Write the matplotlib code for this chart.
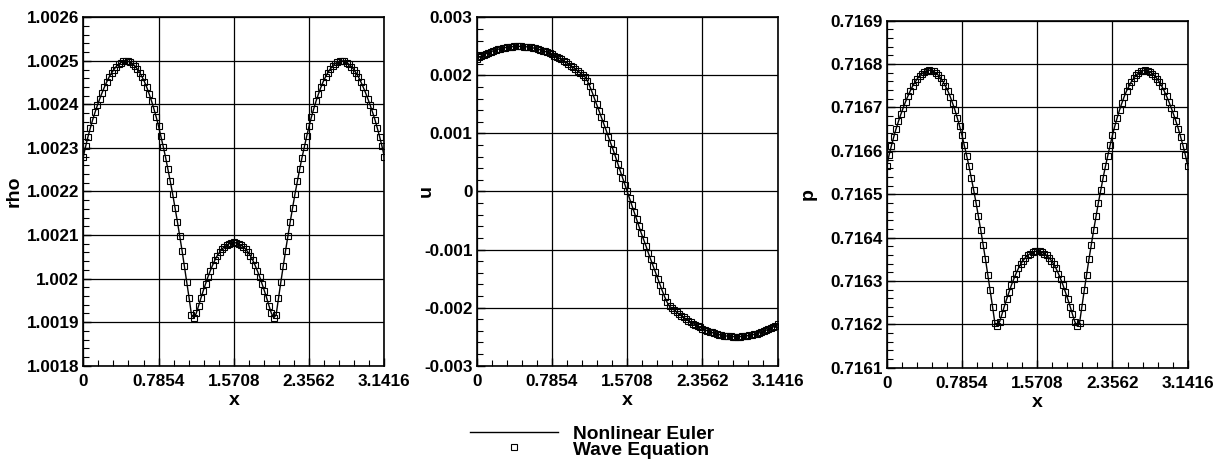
import numpy as np
import matplotlib
matplotlib.use("Agg")
import matplotlib.pyplot as plt
from matplotlib.lines import Line2D
from matplotlib.ticker import AutoMinorLocator

plt.rcParams['font.family'] = ['Liberation Sans', 'DejaVu Sans']
plt.rcParams['font.weight'] = 'bold'

# x grid (129 uniformly spaced points on [0, pi])
x = np.linspace(0, np.pi, 129)
x_ticks = [0, 0.7854, 1.5708, 2.3562, 3.1416]
x_tick_labels = ['0', '0.7854', '1.5708', '2.3562', '3.1416']

rho = [
    1.002280, 1.002304, 1.002326, 1.002346, 1.002365, 1.002382, 1.002398, 1.002413, 1.002427, 1.002440,
    1.002452, 1.002463, 1.002472, 1.002480, 1.002487, 1.002492, 1.002496, 1.002499, 1.002500, 1.002499,
    1.002497, 1.002493, 1.002488, 1.002481, 1.002473, 1.002463, 1.002452, 1.002439, 1.002424, 1.002408,
    1.002390, 1.002371, 1.002350, 1.002327, 1.002303, 1.002278, 1.002251, 1.002223, 1.002194, 1.002163,
    1.002131, 1.002098, 1.002064, 1.002028, 1.001992, 1.001955, 1.001917, 1.001910, 1.001920, 1.001937,
    1.001955, 1.001972, 1.001988, 1.002004, 1.002018, 1.002031, 1.002043, 1.002053, 1.002061, 1.002068,
    1.002073, 1.002077, 1.002080, 1.002082, 1.002083,
    1.002082, 1.002080, 1.002077, 1.002073, 1.002068, 1.002061, 1.002053, 1.002043, 1.002031, 1.002018,
    1.002004, 1.001988, 1.001972, 1.001955, 1.001937, 1.001920, 1.001910, 1.001917, 1.001955, 1.001992,
    1.002028, 1.002064, 1.002098, 1.002131, 1.002163, 1.002194, 1.002223, 1.002251, 1.002278, 1.002303,
    1.002327, 1.002350, 1.002371, 1.002390, 1.002408, 1.002424, 1.002439, 1.002452, 1.002463, 1.002473,
    1.002481, 1.002488, 1.002493, 1.002497, 1.002499, 1.002500, 1.002499, 1.002496, 1.002492, 1.002487,
    1.002480, 1.002472, 1.002463, 1.002452, 1.002440, 1.002427, 1.002413, 1.002398, 1.002382, 1.002365,
    1.002346, 1.002326, 1.002304, 1.002280,
]

u = [
    0.002290, 0.002313, 0.002335, 0.002355, 0.002374, 0.002391, 0.002408, 0.002423, 0.002437, 0.002449,
    0.002460, 0.002470, 0.002478, 0.002485, 0.002491, 0.002495, 0.002498, 0.002500, 0.002500, 0.002499,
    0.002496, 0.002493, 0.002487, 0.002481, 0.002473, 0.002464, 0.002453, 0.002441, 0.002428, 0.002414,
    0.002398, 0.002380, 0.002362, 0.002342, 0.002321, 0.002299, 0.002276, 0.002251, 0.002225, 0.002198,
    0.002169, 0.002140, 0.002109, 0.002077, 0.002044, 0.002010, 0.001975, 0.001910, 0.001820, 0.001720,
    0.001610, 0.001500, 0.001390, 0.001280, 0.001170, 0.001060, 0.000940, 0.000830, 0.000720, 0.000600,
    0.000480, 0.000360, 0.000240, 0.000120, 0.0,
    -0.000120, -0.000240, -0.000360, -0.000480, -0.000600, -0.000720, -0.000830, -0.000940, -0.001060, -0.001170,
    -0.001280, -0.001390, -0.001500, -0.001610, -0.001720, -0.001820, -0.001910, -0.001975, -0.002010, -0.002044,
    -0.002077, -0.002109, -0.002140, -0.002169, -0.002198, -0.002225, -0.002251, -0.002276, -0.002299, -0.002321,
    -0.002342, -0.002362, -0.002380, -0.002398, -0.002414, -0.002428, -0.002441, -0.002453, -0.002464, -0.002473,
    -0.002481, -0.002487, -0.002493, -0.002496, -0.002499, -0.002500, -0.002500, -0.002498, -0.002495, -0.002491,
    -0.002485, -0.002478, -0.002470, -0.002460, -0.002449, -0.002437, -0.002423, -0.002408, -0.002391, -0.002374,
    -0.002355, -0.002335, -0.002313, -0.002290,
]

p = [
    0.716566, 0.716590, 0.716612, 0.716632, 0.716651, 0.716668, 0.716684, 0.716699, 0.716713, 0.716726,
    0.716738, 0.716749, 0.716758, 0.716766, 0.716773, 0.716778, 0.716782, 0.716785, 0.716786, 0.716785,
    0.716783, 0.716779, 0.716774, 0.716767, 0.716759, 0.716749, 0.716738, 0.716725, 0.716710, 0.716694,
    0.716676, 0.716657, 0.716636, 0.716613, 0.716589, 0.716564, 0.716537, 0.716509, 0.716480, 0.716449,
    0.716417, 0.716384, 0.716350, 0.716314, 0.716278, 0.716241, 0.716203, 0.716196, 0.716206, 0.716223,
    0.716241, 0.716258, 0.716274, 0.716290, 0.716304, 0.716317, 0.716329, 0.716339, 0.716347, 0.716354,
    0.716359, 0.716363, 0.716366, 0.716368, 0.716369,
    0.716368, 0.716366, 0.716363, 0.716359, 0.716354, 0.716347, 0.716339, 0.716329, 0.716317, 0.716304,
    0.716290, 0.716274, 0.716258, 0.716241, 0.716223, 0.716206, 0.716196, 0.716203, 0.716241, 0.716278,
    0.716314, 0.716350, 0.716384, 0.716417, 0.716449, 0.716480, 0.716509, 0.716537, 0.716564, 0.716589,
    0.716613, 0.716636, 0.716657, 0.716676, 0.716694, 0.716710, 0.716725, 0.716738, 0.716749, 0.716759,
    0.716767, 0.716774, 0.716779, 0.716783, 0.716785, 0.716786, 0.716785, 0.716782, 0.716778, 0.716773,
    0.716766, 0.716758, 0.716749, 0.716738, 0.716726, 0.716713, 0.716699, 0.716684, 0.716668, 0.716651,
    0.716632, 0.716612, 0.716590, 0.716566,
]

rho_ticks = [1.0018, 1.0019, 1.0020, 1.0021, 1.0022, 1.0023, 1.0024, 1.0025, 1.0026]
rho_tick_labels = ['1.0018', '1.0019', '1.002', '1.0021', '1.0022', '1.0023', '1.0024', '1.0025', '1.0026']
u_ticks = [-0.003, -0.002, -0.001, 0.0, 0.001, 0.002, 0.003]
u_tick_labels = ['-0.003', '-0.002', '-0.001', '0', '0.001', '0.002', '0.003']
p_ticks = [0.7161, 0.7162, 0.7163, 0.7164, 0.7165, 0.7166, 0.7167, 0.7168, 0.7169]
p_tick_labels = ['0.7161', '0.7162', '0.7163', '0.7164', '0.7165', '0.7166', '0.7167', '0.7168', '0.7169']

fig = plt.figure(figsize=(12.24, 4.66), dpi=100)

panels = [
    (rho, 'rho', rho_ticks, rho_tick_labels, [0.06806, 0.21524, 0.24592, 0.74764], -0.20),
    (u, 'u', u_ticks, u_tick_labels, [0.38946, 0.21524, 0.24592, 0.74764], -0.14),
    (p, 'p', p_ticks, p_tick_labels, [0.72443, 0.21094, 0.24592, 0.74464], -0.232),
]

for y, name, yt, ytl, rect, lab_x in panels:
    ax = fig.add_axes(rect)
    ax.plot(x, y, color='black', lw=1.0)
    ax.plot(x, y, ls='none', marker='s', ms=5, mfc='none', mec='black', mew=0.8)
    ax.set_xlim(0, 3.1416)
    ax.set_ylim(yt[0], yt[-1])
    ax.set_xticks(x_ticks)
    ax.set_xticklabels(x_tick_labels)
    ax.set_yticks(yt)
    ax.set_yticklabels(ytl)
    ax.xaxis.set_minor_locator(AutoMinorLocator(5))
    ax.yaxis.set_minor_locator(AutoMinorLocator(5))
    ax.tick_params(which='both', direction='in', top=False, right=False, colors='black')
    ax.tick_params(which='major', length=6, width=1.0, labelsize=12.3)
    ax.tick_params(axis='x', which='major', pad=6)
    ax.tick_params(axis='y', which='major', pad=3)
    ax.tick_params(which='minor', length=4, width=0.8)
    ax.grid(True, which='major', color='black', lw=0.9)
    for s in ax.spines.values():
        s.set_linewidth(1.2)
        s.set_color('black')
    ax.set_xlabel('x', fontsize=14, fontweight='bold')
    ax.xaxis.set_label_coords(0.5, -0.075)
    ax.set_ylabel(name, fontsize=14, fontweight='bold')
    ax.yaxis.set_label_coords(lab_x, 0.5)

# legend drawn in figure coordinates
W, H = 1224.0, 466.0
fig.add_artist(Line2D([470 / W, 558 / W], [1 - 432.3 / H, 1 - 432.3 / H], color='black', lw=1.0,
                      transform=fig.transFigure))
fig.add_artist(Line2D([514 / W], [1 - 447.3 / H], ls='none', marker='s', ms=5, mfc='none', mec='black',
                      mew=0.8, transform=fig.transFigure))
fig.text(573 / W, 1 - 439 / H, 'Nonlinear Euler', fontsize=13.8, fontweight='bold', va='baseline', ha='left')
fig.text(573 / W, 1 - 455 / H, 'Wave Equation', fontsize=13.8, fontweight='bold', va='baseline', ha='left')

fig.savefig('out.png', dpi=100)
